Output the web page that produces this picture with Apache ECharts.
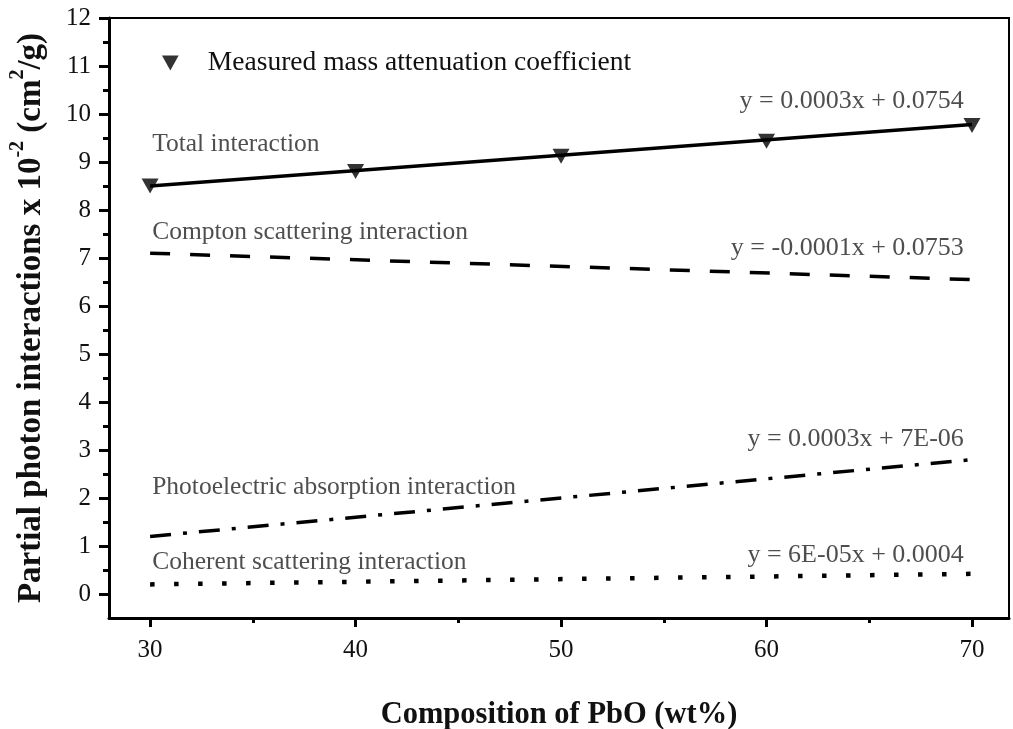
<!DOCTYPE html>
<html>
<head>
<meta charset="utf-8">
<script src="https://cdn.jsdelivr.net/npm/echarts@6/dist/echarts.min.js"></script>
<style>
  html, body { margin: 0; padding: 0; background: #fff; }
  #chart { width: 1013px; height: 729px; }
</style>
</head>
<body>
<div id="chart"></div>
<script>
// PbO content of the glass samples (wt%)
const composition = [30, 40, 50, 60, 70];
// Measured mass attenuation coefficient (x 10^-2 cm^2/g)
const measured = [8.5, 8.8, 9.12, 9.43, 9.76];

// Fitted trend lines, values at the ends of the composition range (x 10^-2 cm^2/g)
const fitX = [30, 70];
const totalFit = [8.5, 9.78];
const comptonFit = [7.1, 6.55];
const photoFit = [1.2, 2.8];
const coherentFit = [0.2, 0.42];

// Axis ticks
const xMajor = [30, 40, 50, 60, 70];
const xMinor = [35, 45, 55, 65];
const yMajor = [0, 1, 2, 3, 4, 5, 6, 7, 8, 9, 10, 11, 12];
const yMinor = [0.5, 1.5, 2.5, 3.5, 4.5, 5.5, 6.5, 7.5, 8.5, 9.5, 10.5, 11.5];

// Curve names and fitted equations
const curveNames = ['Total interaction', 'Compton scattering interaction',
  'Photoelectric absorption interaction', 'Coherent scattering interaction'];
const equations = ['y = 0.0003x + 0.0754', 'y = -0.0001x + 0.0753',
  'y = 0.0003x + 7E-06', 'y = 6E-05x + 0.0004'];
const legendName = 'Measured mass attenuation coefficient';

const SERIF = '"Liberation Serif", "Times New Roman", serif';

const pairs = (xs, ys) => xs.map((x, i) => [x, ys[i]]);

// Where each text sits, in data coordinates
const nameAnchors = [[30.1, 9.36], [30.1, 7.53], [30.1, 2.22], [30.1, 0.67]];
const eqAnchors = [[69.6, 10.27], [69.6, 7.21], [69.6, 3.22], [69.6, 0.81]];

const chart = echarts.init(document.getElementById('chart'), null, { renderer: 'canvas' });

const xBase = { type: 'value', min: 28, max: 71.8, splitLine: { show: false } };
const yBase = { type: 'value', min: -0.5, max: 12, splitLine: { show: false } };

chart.setOption({
  animation: false,
  backgroundColor: '#fff',
  grid: {
    left: 109, right: 4, top: 18, bottom: 111,
    outerBoundsMode: 'none', containLabel: false,
    show: true, borderColor: '#000', borderWidth: 2, backgroundColor: 'transparent'
  },
  legend: {
    data: [{ name: legendName, icon: 'path://M0,0 L10,0 L5,9 Z' }],
    left: 157, top: 44,
    itemWidth: 17, itemHeight: 15,
    textStyle: { fontFamily: SERIF, fontSize: 27.5, color: '#111', padding: [0, 0, 0, 24] },
    selectedMode: false
  },
  xAxis: [
    Object.assign({}, xBase, {
      position: 'bottom',
      name: 'Composition of PbO (wt%)',
      nameLocation: 'middle', nameGap: 82,
      nameTextStyle: { fontFamily: SERIF, fontSize: 30.5, fontWeight: 'bold', color: '#111' },
      axisLine: { show: true, onZero: false, lineStyle: { color: '#000', width: 3 } },
      axisTick: { show: true, inside: false, length: 9, customValues: xMajor, lineStyle: { color: '#000', width: 3 } },
      axisLabel: { show: true, customValues: xMajor, margin: 20, fontFamily: SERIF, fontSize: 25, color: '#111' }
    }),
    Object.assign({}, xBase, {
      position: 'bottom',
      axisLine: { show: false, onZero: false },
      axisTick: { show: true, inside: false, length: 5, customValues: xMinor, lineStyle: { color: '#000', width: 3 } },
      axisLabel: { show: false }
    })
  ],
  yAxis: [
    Object.assign({}, yBase, {
      position: 'left',
      name: '{b|Partial photon interactions x 10}{s|-2}{b| (cm}{s|2}{b|/g)}',
      nameLocation: 'middle', nameGap: 61, nameRotate: 90,
      nameTextStyle: {
        rich: {
          b: { fontFamily: SERIF, fontSize: 33, fontWeight: 'bold', color: '#111', lineHeight: 40, verticalAlign: 'bottom' },
          s: { fontFamily: SERIF, fontSize: 20, fontWeight: 'bold', color: '#111', lineHeight: 20, verticalAlign: 'top' }
        }
      },
      axisLine: { show: true, onZero: false, lineStyle: { color: '#000', width: 3 } },
      axisTick: { show: true, inside: false, length: 10, customValues: yMajor, lineStyle: { color: '#000', width: 3 } },
      axisLabel: { show: true, customValues: yMajor, margin: 18, fontFamily: SERIF, fontSize: 25, color: '#111' }
    }),
    Object.assign({}, yBase, {
      position: 'left',
      axisLine: { show: false, onZero: false },
      axisTick: { show: true, inside: false, length: 6, customValues: yMinor, lineStyle: { color: '#000', width: 3 } },
      axisLabel: { show: false }
    })
  ],
  series: [
    {
      name: 'Total fit', type: 'line', data: pairs(fitX, totalFit),
      symbol: 'none', lineStyle: { color: '#000', width: 3.5 }, silent: true, z: 3
    },
    {
      name: 'Compton fit', type: 'line', data: pairs(fitX, comptonFit),
      symbol: 'none', lineStyle: { color: '#000', width: 3.5, type: [20, 20] }, silent: true
    },
    {
      name: 'Photoelectric fit', type: 'line', data: pairs(fitX, photoFit),
      symbol: 'none', lineStyle: { color: '#000', width: 3.5, type: [21, 12, 4, 12] }, silent: true
    },
    {
      name: 'Coherent fit', type: 'line', data: pairs(fitX, coherentFit),
      symbol: 'none', lineStyle: { color: '#000', width: 4.5, type: [4.5, 19.5] }, silent: true
    },
    {
      name: legendName, type: 'scatter', data: pairs(composition, measured),
      symbol: 'triangle', symbolRotate: 180, symbolSize: [17, 15],
      itemStyle: { color: '#000' }, z: 5
    },
    {
      name: 'curve labels', type: 'scatter', symbolSize: 0, silent: true,
      data: curveNames.map((n, i) => ({ name: n, value: nameAnchors[i] })),
      label: {
        show: true, position: 'right', distance: 0, formatter: p => p.name,
        fontFamily: SERIF, fontSize: 25.5, color: '#222'
      }
    },
    {
      name: 'equations', type: 'scatter', symbolSize: 0, silent: true,
      data: equations.map((n, i) => ({ name: n, value: eqAnchors[i] })),
      label: {
        show: true, position: 'left', distance: 0, formatter: p => p.name,
        fontFamily: SERIF, fontSize: 26, color: '#222'
      }
    }
  ]
});
</script>
</body>
</html>
